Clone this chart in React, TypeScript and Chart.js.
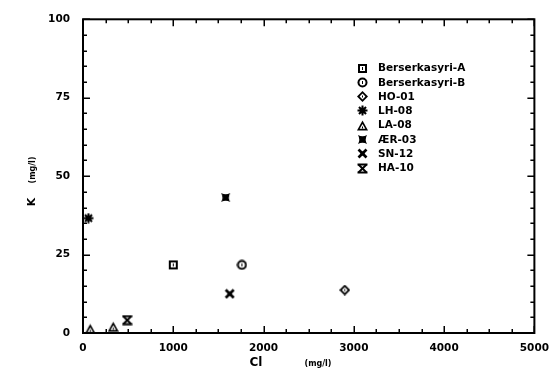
import React, { useEffect, useRef } from 'react';
import { Chart, registerables } from 'chart.js';
Chart.register(...registerables);

// ---- data ----
const seriesNames = ['Berserkasyri-A', 'Berserkasyri-B', 'HO-01', 'LH-08', 'LA-08', 'ÆR-03', 'SN-12', 'HA-10'];
const clValues: number[][] = [[1000], [1760], [2900], [60], [80, 335], [1580], [1625], [490]];
const kValues: number[][] = [[21.7], [21.7], [13.7], [36.6], [1.3, 2.0], [43.2], [12.5], [4.1]];
const markerKinds = ['squareU', 'circleU', 'diamondU', 'star', 'triangleU', 'notchSquare', 'bowX', 'hourglass'];
const xAxisRange = [0, 5000];
const yAxisRange = [0, 100];
const xMajorStep = 1000;
const xMinorStep = 250;
const yMajorStep = 25;
const yMinorStep = 5;
const xTitleMain = 'Cl';
const yTitleMain = 'K';
const unitText = '(mg/l)';

const FONT = '"DejaVu Sans", sans-serif';

function makeMarker(kind: string): HTMLCanvasElement {
  const cv = document.createElement('canvas');
  cv.width = 11;
  cv.height = 11;
  const g = cv.getContext('2d')!;
  g.fillStyle = '#000';
  g.strokeStyle = '#000';
  const c = 5.5;
  if (kind === 'squareU') {
    g.fillRect(1, 1, 9, 9);
    g.fillStyle = '#fff';
    g.fillRect(3, 3, 5, 5);
    g.fillStyle = '#000';
    g.fillRect(5, 4, 1, 3);
  } else if (kind === 'circleU') {
    g.beginPath(); g.arc(c, c, 5, 0, Math.PI * 2); g.fill();
    g.fillStyle = '#fff';
    g.beginPath(); g.arc(c, c, 3, 0, Math.PI * 2); g.fill();
    g.fillStyle = '#000';
    g.fillRect(5, 4, 1, 3);
  } else if (kind === 'diamondU') {
    g.beginPath(); g.moveTo(c, 0); g.lineTo(11, c); g.lineTo(c, 11); g.lineTo(0, c); g.closePath(); g.fill();
    g.fillStyle = '#fff';
    g.beginPath(); g.moveTo(c, 2.6); g.lineTo(8.4, c); g.lineTo(c, 8.4); g.lineTo(2.6, c); g.closePath(); g.fill();
    g.fillStyle = '#000';
    g.fillRect(5, 4.5, 1, 2);
  } else if (kind === 'star') {
    g.lineWidth = 2;
    for (let i = 0; i < 8; i++) {
      const a = (i * Math.PI) / 4;
      g.beginPath(); g.moveTo(c, c); g.lineTo(c + Math.cos(a) * 5, c + Math.sin(a) * 5); g.stroke();
    }
    g.beginPath(); g.arc(c, c, 3, 0, Math.PI * 2); g.fill();
  } else if (kind === 'triangleU') {
    g.beginPath(); g.moveTo(c, 0.5); g.lineTo(11, 10.5); g.lineTo(0, 10.5); g.closePath(); g.fill();
    g.fillStyle = '#fff';
    g.beginPath(); g.moveTo(c, 4); g.lineTo(8.3, 8.8); g.lineTo(2.7, 8.8); g.closePath(); g.fill();
    g.fillStyle = '#000';
    g.fillRect(5, 6.5, 1, 2);
  } else if (kind === 'notchSquare') {
    g.beginPath();
    g.moveTo(1, 1);
    g.quadraticCurveTo(c, 3.5, 10, 1);
    g.quadraticCurveTo(7.5, c, 10, 10);
    g.quadraticCurveTo(c, 7.5, 1, 10);
    g.quadraticCurveTo(3.5, c, 1, 1);
    g.closePath();
    g.fill();
  } else if (kind === 'bowX') {
    g.lineWidth = 2.6;
    g.beginPath(); g.moveTo(1.5, 1.5); g.lineTo(9.5, 9.5); g.stroke();
    g.beginPath(); g.moveTo(9.5, 1.5); g.lineTo(1.5, 9.5); g.stroke();
    g.fillRect(3.5, 3.5, 4, 4);
  } else if (kind === 'hourglass') {
    g.lineWidth = 2;
    g.beginPath(); g.moveTo(0.5, 1.5); g.lineTo(10.5, 1.5); g.stroke();
    g.beginPath(); g.moveTo(0.5, 9.5); g.lineTo(10.5, 9.5); g.stroke();
    g.beginPath(); g.moveTo(1.5, 1.5); g.lineTo(9.5, 9.5); g.stroke();
    g.beginPath(); g.moveTo(9.5, 1.5); g.lineTo(1.5, 9.5); g.stroke();
  }
  return cv;
}

const framePlugin = {
  id: 'frameTicks',
  afterDraw(chart: any) {
    const { ctx, chartArea } = chart;
    const xs = chart.scales.x;
    const ys = chart.scales.y;
    const { left, right, top, bottom } = chartArea;
    ctx.save();
    ctx.strokeStyle = '#000';
    ctx.lineWidth = 2;
    ctx.strokeRect(left, top, right - left, bottom - top);
    ctx.lineWidth = 1.5;
    for (let v = xAxisRange[0]; v <= xAxisRange[1]; v += xMinorStep) {
      const px = Math.round(xs.getPixelForValue(v)) + 0.25;
      const len = v % xMajorStep === 0 ? 7 : 4;
      ctx.beginPath();
      ctx.moveTo(px, bottom); ctx.lineTo(px, bottom - len);
      ctx.moveTo(px, top); ctx.lineTo(px, top + len);
      ctx.stroke();
    }
    for (let v = yAxisRange[0]; v <= yAxisRange[1]; v += yMinorStep) {
      const py = Math.round(ys.getPixelForValue(v)) + 0.25;
      const len = v % yMajorStep === 0 ? 7 : 4;
      ctx.beginPath();
      ctx.moveTo(left, py); ctx.lineTo(left + len, py);
      ctx.moveTo(right, py); ctx.lineTo(right - len, py);
      ctx.stroke();
    }
    // axis titles
    ctx.fillStyle = '#000';
    ctx.textBaseline = 'middle';
    ctx.textAlign = 'center';
    ctx.font = `bold 12px ${FONT}`;
    ctx.fillText(xTitleMain, 256, 363);
    ctx.font = `bold 8px ${FONT}`;
    ctx.fillText(unitText, 318, 364);
    ctx.save();
    ctx.translate(32, 0);
    ctx.rotate(-Math.PI / 2);
    ctx.font = `bold 11px ${FONT}`;
    ctx.fillText(yTitleMain, -202, 0);
    ctx.font = `bold 8px ${FONT}`;
    ctx.fillText(unitText, -170, 1);
    ctx.restore();
    // legend
    ctx.font = `bold 10.5px ${FONT}`;
    ctx.textAlign = 'left';
    chart.data.datasets.forEach((ds: any, i: number) => {
      const y = 68 + i * 14.3;
      const img = ds.pointStyle as HTMLCanvasElement;
      ctx.drawImage(img, Math.round(362 - img.width / 2), Math.round(y - img.height / 2));
      ctx.fillText(ds.label, 378, y + 0.5);
    });
    ctx.restore();
  },
};

export default function App() {
  const ref = useRef<HTMLCanvasElement>(null);
  useEffect(() => {
    document.body.style.margin = '0';
    const datasets = seriesNames.map((name, i) => ({
      label: name,
      data: clValues[i].map((x, j) => ({ x, y: kValues[i][j] })),
      pointStyle: makeMarker(markerKinds[i]) as any,
      pointRadius: 5,
      backgroundColor: '#000',
      borderColor: '#000',
      showLine: false,
    }));
    const chart = new Chart(ref.current!, {
      type: 'scatter',
      data: { datasets },
      options: {
        responsive: false,
        animation: false,
        devicePixelRatio: 1,
        layout: { padding: { top: 15, right: 21, left: 0, bottom: 0 } },
        plugins: { legend: { display: false }, tooltip: { enabled: false } },
        scales: {
          x: {
            type: 'linear',
            min: xAxisRange[0],
            max: xAxisRange[1],
            grid: { display: false, drawTicks: false },
            border: { display: false },
            ticks: {
              stepSize: xMajorStep, color: '#000', padding: 9,
              font: { family: FONT, weight: 'bold', size: 10.5 }, maxRotation: 0,
              callback: (v: any) => String(v),
            },
            afterFit: (s: any) => { s.height = 38; },
          },
          y: {
            type: 'linear',
            min: yAxisRange[0],
            max: yAxisRange[1],
            grid: { display: false, drawTicks: false },
            border: { display: false },
            ticks: {
              stepSize: yMajorStep, color: '#000', padding: 13,
              font: { family: FONT, weight: 'bold', size: 10.5 },
              callback: (v: any) => String(v),
            },
            afterFit: (s: any) => { s.width = 83; },
          },
        },
      },
      plugins: [framePlugin],
    } as any);
    return () => chart.destroy();
  }, []);
  return (
    <div style={{ position: 'absolute', left: 0, top: 0, width: 558, height: 371, background: '#fff' }}>
      <canvas ref={ref} width={558} height={371} />
    </div>
  );
}
